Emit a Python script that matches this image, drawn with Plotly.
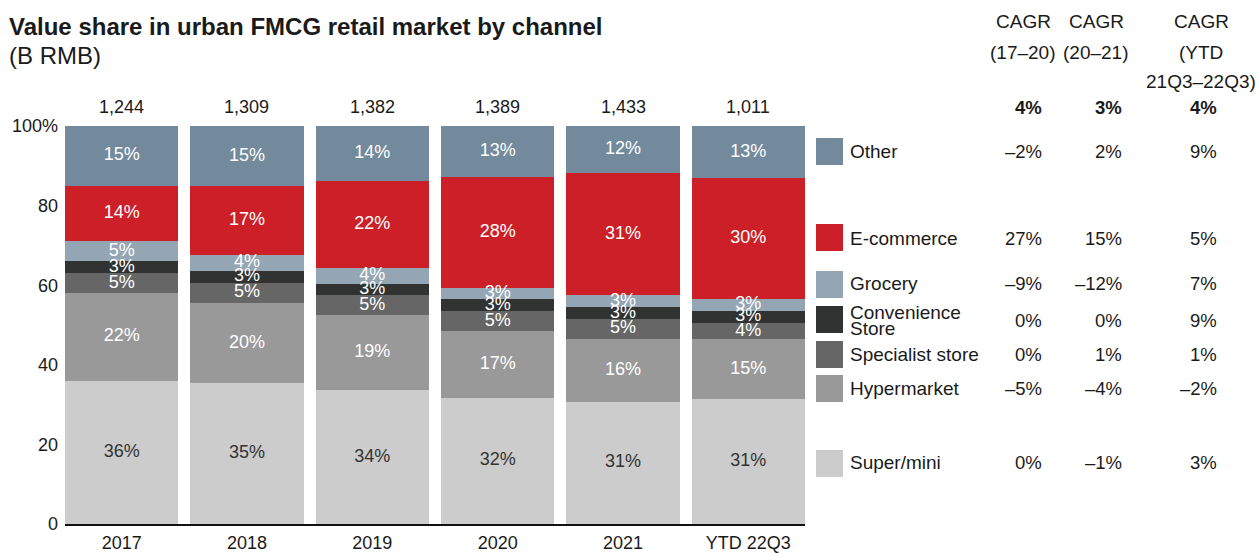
import plotly.graph_objects as go

# ---- data -------------------------------------------------------------
years = ["2017", "2018", "2019", "2020", "2021", "YTD 22Q3"]
totals = ["1,244", "1,309", "1,382", "1,389", "1,433", "1,011"]

channels = ["Super/mini", "Hypermarket", "Specialist store", "Convenience Store",
            "Grocery", "E-commerce", "Other"]
share_super = [36, 35, 34, 32, 31, 31]
share_hyper = [22, 20, 19, 17, 16, 15]
share_special = [5, 5, 5, 5, 5, 4]
share_conv = [3, 3, 3, 3, 3, 3]
share_grocery = [5, 4, 4, 3, 3, 3]
share_ecom = [14, 17, 22, 28, 31, 30]
share_other = [15, 15, 14, 13, 12, 13]
shares = [share_super, share_hyper, share_special, share_conv,
          share_grocery, share_ecom, share_other]

cagr_headers = [["CAGR", "(17–20)"], ["CAGR", "(20–21)"], ["CAGR", "(YTD", "21Q3–22Q3)"]]
cagr_total = ["4%", "3%", "4%"]
cagr_17_20 = {"Other": "–2%", "E-commerce": "27%", "Grocery": "–9%",
              "Convenience Store": "0%", "Specialist store": "0%",
              "Hypermarket": "–5%", "Super/mini": "0%"}
cagr_20_21 = {"Other": "2%", "E-commerce": "15%", "Grocery": "–12%",
              "Convenience Store": "0%", "Specialist store": "1%",
              "Hypermarket": "–4%", "Super/mini": "–1%"}
cagr_ytd = {"Other": "9%", "E-commerce": "5%", "Grocery": "7%",
            "Convenience Store": "9%", "Specialist store": "1%",
            "Hypermarket": "–2%", "Super/mini": "3%"}

# ---- styling ----------------------------------------------------------
colors = {"Super/mini": "#cccccc", "Hypermarket": "#999999",
          "Specialist store": "#666666", "Convenience Store": "#313333",
          "Grocery": "#94a6b4", "E-commerce": "#cd1f27", "Other": "#738a9d"}
text_colors = {"Super/mini": "#333333"}
FONT = "Liberation Sans, Arial, sans-serif"
FS = 18        # axis ticks, totals, segment labels
FS_LEG = 19    # legend and table headers
FS_VAL = 18.5  # table values
INK = "#1a1a1a"

W, H = 1258, 553
L, R, T, B = 65, 805, 126, 524   # plot area in pixels


def px(x):
    return (x - L) / (R - L)


def py(y):
    return (B - y) / (B - T)


fig = go.Figure()
for name, vals in zip(channels, shares):
    fig.add_trace(go.Bar(
        x=years, y=vals, name=name,
        marker=dict(color=colors[name], line=dict(width=0)),
        customdata=[f"{v}%" for v in vals],
        hovertemplate="%{x}<br>" + name + ": %{customdata}<extra></extra>",
    ))

# segment labels drawn on top of all bars, at the middle of each
# normalised (100%) stack segment
lab_x, lab_y, lab_t, lab_c = [], [], [], []
for j, yr in enumerate(years):
    col_total = sum(s[j] for s in shares)
    base = 0.0
    for name, vals in zip(channels, shares):
        v = vals[j]
        lab_x.append(yr)
        lab_y.append((base + v / 2) / col_total * 100)
        lab_t.append(f"{v}%")
        lab_c.append(text_colors.get(name, "#ffffff"))
        base += v
fig.add_trace(go.Scatter(
    x=lab_x, y=lab_y, text=lab_t, mode="text", textposition="middle center",
    textfont=dict(family=FONT, size=FS, color=lab_c),
    hoverinfo="skip", cliponaxis=False, showlegend=False,
))

annotations = []
# totals above each bar (category axis: positions by index)
for i, tot in enumerate(totals):
    annotations.append(dict(x=i, y=100, xref="x", yref="y", text=tot,
                            showarrow=False, yanchor="bottom", yshift=7,
                            font=dict(family=FONT, size=FS, color=INK)))

# title
annotations.append(dict(x=px(7), y=py(26), xref="paper", yref="paper",
                        text="<b>Value share in urban FMCG retail market by channel</b>",
                        showarrow=False, xanchor="left", yanchor="middle",
                        font=dict(family=FONT, size=24, color=INK)))
annotations.append(dict(x=px(7), y=py(55), xref="paper", yref="paper",
                        text="(B RMB)", showarrow=False, xanchor="left",
                        yanchor="middle", font=dict(family=FONT, size=24, color=INK)))

# legend rows: (channel, square top, text lines with y centers, value row y)
legend_rows = [
    ("Other", 138, [("Other", 152)], 152),
    ("E-commerce", 224, [("E-commerce", 238)], 238),
    ("Grocery", 271, [("Grocery", 283)], 283),
    ("Convenience Store", 306, [("Convenience", 312), ("Store", 328)], 320),
    ("Specialist store", 341, [("Specialist store", 354)], 354),
    ("Hypermarket", 375, [("Hypermarket", 388)], 388),
    ("Super/mini", 450, [("Super/mini", 462)], 462),
]
shapes = []
col_right = [1044, 1124, 1219]
col_center = [1023, 1096, 1201]
for name, sq_top, lines, val_y in legend_rows:
    shapes.append(dict(type="rect", xref="paper", yref="paper",
                       x0=px(816), x1=px(843), y0=py(sq_top + 27), y1=py(sq_top),
                       fillcolor=colors[name], line=dict(width=0)))
    for txt, yc in lines:
        annotations.append(dict(x=px(848), y=py(yc), xref="paper", yref="paper",
                                text=txt, showarrow=False, xanchor="left",
                                yanchor="middle",
                                font=dict(family=FONT, size=FS_LEG, color=INK)))
    for cx, col in zip(col_right, [cagr_17_20, cagr_20_21, cagr_ytd]):
        annotations.append(dict(x=px(cx), y=py(val_y), xref="paper", yref="paper",
                                text=col[name], showarrow=False, xanchor="right",
                                yanchor="middle",
                                font=dict(family=FONT, size=FS_VAL, color=INK)))

# CAGR headers and total row
header_y = [22, 53, 81]
for cx, hdr in zip(col_center, cagr_headers):
    for i, txt in enumerate(hdr):
        annotations.append(dict(x=px(cx), y=py(header_y[i]), xref="paper", yref="paper",
                                text=txt, showarrow=False, xanchor="center",
                                yanchor="middle",
                                font=dict(family=FONT, size=FS_LEG, color=INK)))
for cx, txt in zip(col_right, cagr_total):
    annotations.append(dict(x=px(cx), y=py(108), xref="paper", yref="paper",
                            text=f"<b>{txt}</b>", showarrow=False, xanchor="right",
                            yanchor="middle",
                            font=dict(family=FONT, size=FS_VAL, color=INK)))

gap = 0.096
fig.update_layout(
    width=W, height=H, barmode="stack", barnorm="percent", bargap=gap,
    paper_bgcolor="white", plot_bgcolor="white", showlegend=False,
    margin=dict(l=L, r=W - R, t=T, b=H - B, pad=0, autoexpand=False),
    font=dict(family=FONT, size=FS, color=INK),
    annotations=annotations, shapes=shapes,
    xaxis=dict(type="category", range=[-0.5 + gap / 2, len(years) - 0.5 - gap / 2],
               showline=True, linecolor="#111111", linewidth=2, ticks="",
               showgrid=False, automargin=False, ticklabelstandoff=1,
               tickfont=dict(family=FONT, size=FS, color=INK)),
    yaxis=dict(range=[0, 100], tickvals=[0, 20, 40, 60, 80, 100],
               ticktext=["0", "20", "40", "60", "80", "100%"],
               showgrid=False, zeroline=False, showline=False, ticks="",
               ticklabelstandoff=6, automargin=False,
               tickfont=dict(family=FONT, size=FS, color=INK)),
)

fig.write_html("out.html")
